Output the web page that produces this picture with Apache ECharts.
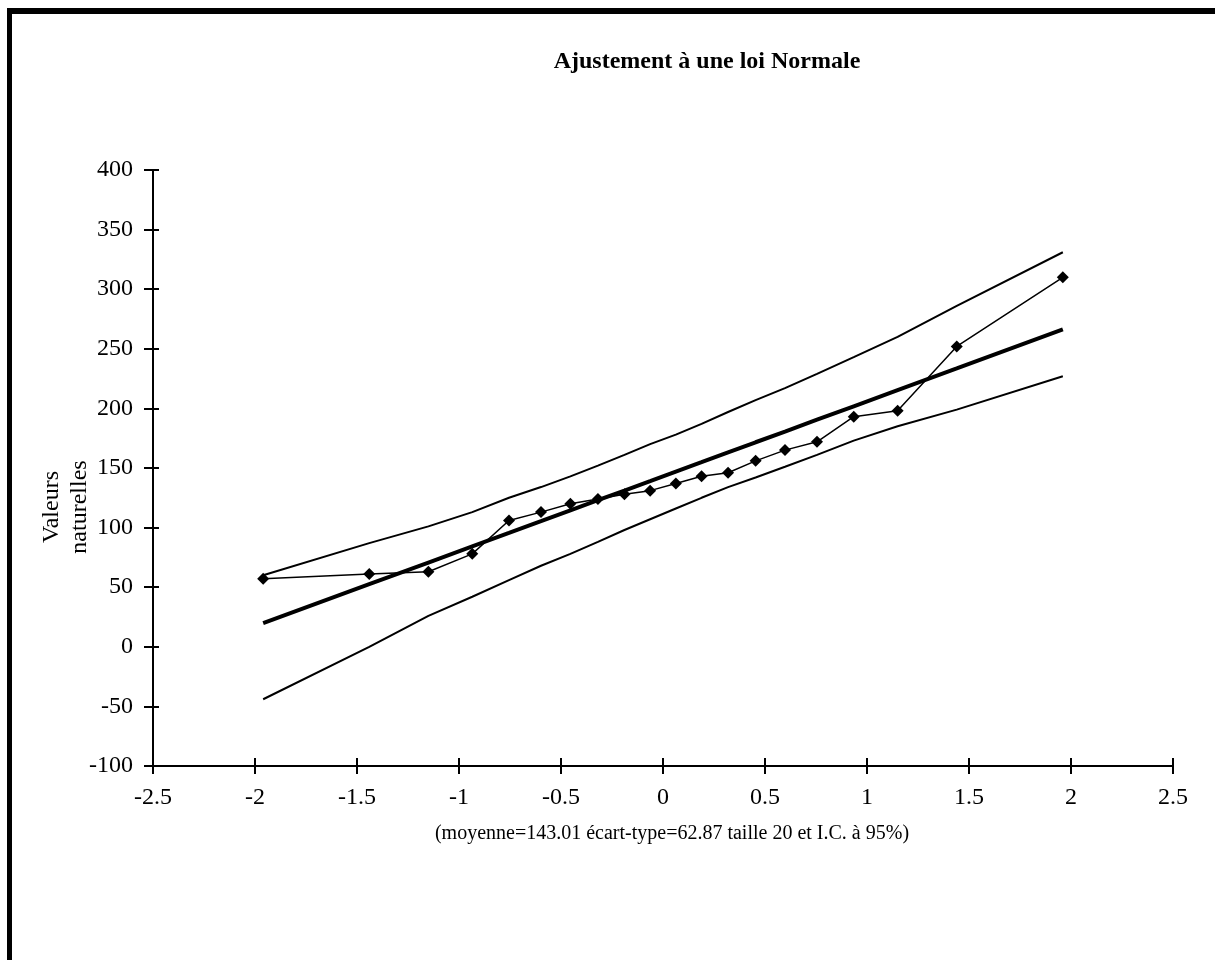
<!DOCTYPE html>
<html>
<head>
<meta charset="utf-8">
<title>Ajustement à une loi Normale</title>
<script src="https://cdn.jsdelivr.net/npm/echarts@6/dist/echarts.min.js"></script>
<style>
  html, body { margin: 0; padding: 0; background: #fff; }
  #chart { width: 1215px; height: 960px; }
</style>
</head>
<body>
<div id="chart"></div>
<script>
// quantiles de la loi normale (abscisses)
const zScores = [-1.96, -1.44, -1.15, -0.935, -0.755, -0.598, -0.454, -0.319, -0.189, -0.063,
                 0.063, 0.189, 0.319, 0.454, 0.598, 0.755, 0.935, 1.15, 1.44, 1.96];
// valeurs observées (triées)
const observed = [57, 61, 63, 78, 106, 113, 120, 124, 128, 131,
                  137, 143, 146, 156, 165, 172, 193, 198, 252, 310];
// droite théorique
const fitted = [19.8, 52.5, 70.7, 84.2, 95.5, 105.4, 114.5, 123.0, 131.1, 139.0,
                147.0, 154.9, 163.1, 171.6, 180.6, 190.5, 201.8, 215.3, 233.5, 266.2];
// bornes de l'intervalle de confiance à 95%
const upperBound = [60, 87, 101, 113, 125, 134, 143, 152, 161, 170,
                    178, 187, 197, 207, 217, 229, 243, 260, 286, 331];
const lowerBound = [-44, 0, 26, 42, 56, 68, 78, 88, 98, 107,
                    116, 125, 134, 142, 151, 161, 173, 185, 199, 227];

const titleText = 'Ajustement à une loi Normale';
const yName = 'Valeurs\nnaturelles';
const footText = '(moyenne=143.01 écart-type=62.87 taille 20 et I.C. à 95%)';

const FONT = '"Liberation Serif", "DejaVu Serif", serif';

const pairs = ys => zScores.map((z, i) => [z, ys[i]]);

const chart = echarts.init(document.getElementById('chart'), null, { renderer: 'canvas' });

const xBase = {
  type: 'value', min: -2.5, max: 2.5, interval: 0.5, gridIndex: 0,
  splitLine: { show: false }
};
const yBase = {
  type: 'value', min: -100, max: 400, interval: 50, gridIndex: 0,
  splitLine: { show: false }
};

const option = {
  animation: false,
  backgroundColor: '#fff',
  grid: { left: 153, right: 42, top: 170, bottom: 194, containLabel: false },
  xAxis: [
    Object.assign({}, xBase, {
      position: 'bottom',
      axisLine: { onZero: false, lineStyle: { color: '#000', width: 2 } },
      axisTick: { show: false },
      axisLabel: { color: '#000', fontFamily: FONT, fontSize: 24, margin: 20 }
    }),
    // graduations croisées : axe décalé vers l'intérieur, ticks plus longs
    Object.assign({}, xBase, {
      position: 'bottom', offset: -8,
      axisLine: { show: false, onZero: false },
      axisTick: { length: 16, lineStyle: { color: '#000', width: 2 } },
      axisLabel: { show: false }
    })
  ],
  yAxis: [
    Object.assign({}, yBase, {
      position: 'left',
      axisLine: { onZero: false, lineStyle: { color: '#000', width: 2 } },
      axisTick: { show: false },
      axisLabel: { color: '#000', fontFamily: FONT, fontSize: 24, margin: 20 }
    }),
    Object.assign({}, yBase, {
      position: 'left', offset: -6,
      axisLine: { show: false, onZero: false },
      axisTick: { length: 15, lineStyle: { color: '#000', width: 2 } },
      axisLabel: { show: false }
    })
  ],
  graphic: [
    // cadre (bords haut et gauche)
    { type: 'rect', left: 12, top: 8, shape: { width: 1203, height: 6 }, style: { fill: '#000' } },
    { type: 'rect', left: 7, top: 8, shape: { width: 5, height: 952 }, style: { fill: '#000' } },
    {
      type: 'text', x: 707, y: 62,
      style: { text: titleText, fill: '#000', font: 'bold 24px ' + FONT, align: 'center', verticalAlign: 'middle' }
    },
    {
      type: 'text', x: 66, y: 507, rotation: Math.PI / 2,
      style: { text: yName, fill: '#000', font: '24px ' + FONT, align: 'center', verticalAlign: 'middle', lineHeight: 28 }
    },
    {
      type: 'text', x: 672, y: 834,
      style: { text: footText, fill: '#000', font: '20px ' + FONT, align: 'center', verticalAlign: 'middle' }
    }
  ],
  series: [
    {
      name: 'borne sup', type: 'line', data: pairs(upperBound), showSymbol: false, silent: true,
      lineStyle: { color: '#000', width: 2 }
    },
    {
      name: 'borne inf', type: 'line', data: pairs(lowerBound), showSymbol: false, silent: true,
      lineStyle: { color: '#000', width: 2 }
    },
    {
      name: 'théorique', type: 'line', data: pairs(fitted), showSymbol: false, silent: true,
      lineStyle: { color: '#000', width: 4 }
    },
    {
      name: 'observé', type: 'line', data: pairs(observed), silent: true,
      symbol: 'diamond', symbolSize: 12,
      itemStyle: { color: '#000' },
      lineStyle: { color: '#000', width: 1.5 }
    }
  ]
};

chart.setOption(option);
</script>
</body>
</html>
